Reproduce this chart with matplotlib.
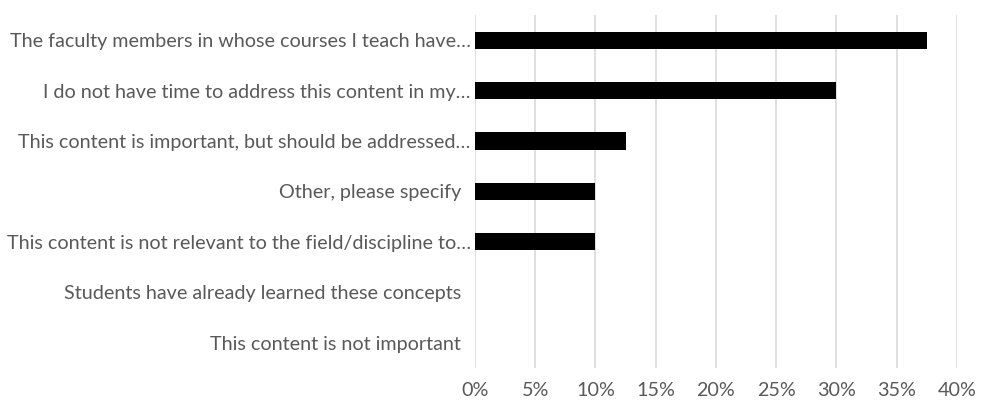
import matplotlib
matplotlib.use("Agg")
import matplotlib.pyplot as plt
from matplotlib.ticker import FuncFormatter

categories = [
    "The faculty members in whose courses I teach have\u2026",
    "I do not have time to address this content in my\u2026",
    "This content is important, but should be addressed\u2026",
    "Other, please specify  ",
    "This content is not relevant to the field/discipline to\u2026",
    "Students have already learned these concepts  ",
    "This content is not important  ",
]
values = [37.5, 30.0, 12.5, 10.0, 10.0, 0.0, 0.0]
xticks = [0, 5, 10, 15, 20, 25, 30, 35, 40]

plt.rcParams['font.family'] = ['Lato', 'DejaVu Sans']

fig = plt.figure(figsize=(9.93, 4.13), dpi=100)
ax = fig.add_axes([0.4783, 0.109, 0.4854, 0.8547])

ypos = list(range(len(categories)))
ax.barh(ypos, values, height=0.34, color='black', zorder=3)
ax.set_ylim(len(categories) - 0.5, -0.5)
ax.set_xlim(0, 40)
ax.set_xticks(xticks)
ax.xaxis.set_major_formatter(FuncFormatter(lambda v, p: f"{int(v)}%"))
ax.set_yticks(ypos)
ax.set_yticklabels(categories)
ax.grid(axis='x', color='#d9d9d9', linewidth=1.2, zorder=0)
for s in ax.spines.values():
    s.set_visible(False)
ax.tick_params(axis='both', length=0, colors='#595959', labelsize=14.2)
ax.tick_params(axis='y', pad=3)
ax.tick_params(axis='x', pad=10)

fig.savefig("out.png", dpi=100, facecolor='white')
